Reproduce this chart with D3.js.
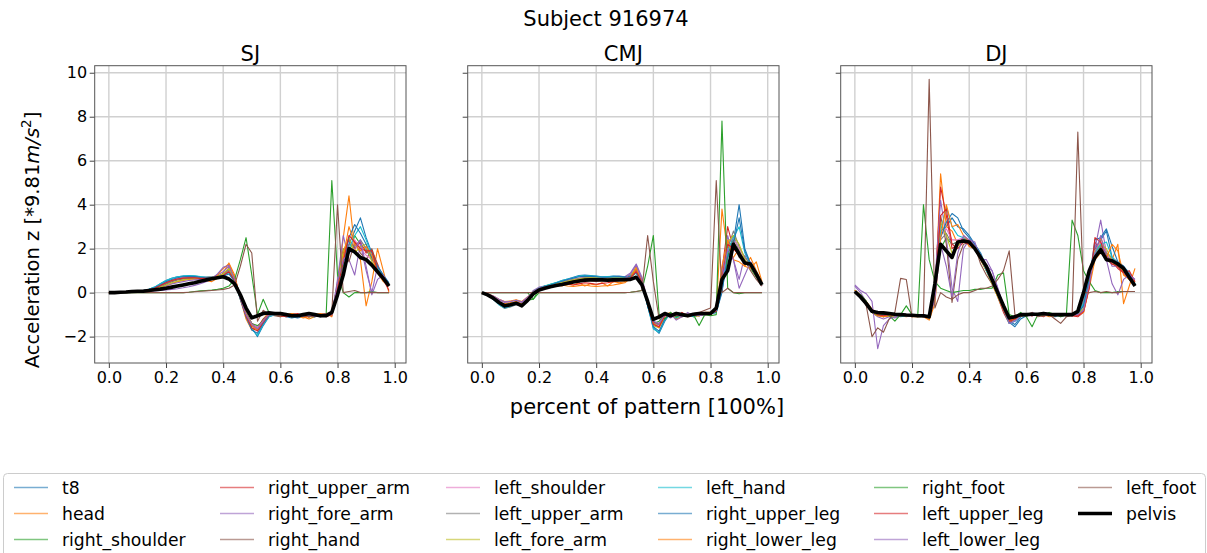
<!DOCTYPE html>
<html>
<head>
<meta charset="utf-8">
<script src="https://cdn.jsdelivr.net/npm/d3@7"></script>
<style>
  body { margin: 0; background: #fff; }
  svg { font-family: "DejaVu Sans", sans-serif; }
</style>
</head>
<body>
<svg id="chart" width="1207" height="553"></svg>
<script>
// sensor names, in plotting / legend order
const sensors = ["t8", "head", "right_shoulder", "right_upper_arm", "right_fore_arm",
  "right_hand", "left_shoulder", "left_upper_arm", "left_fore_arm", "left_hand",
  "right_upper_leg", "right_lower_leg", "right_foot", "left_upper_leg",
  "left_lower_leg", "left_foot", "pelvis"];

const sensorColors = ["#1f77b4", "#ff7f0e", "#2ca02c", "#d62728", "#9467bd",
  "#8c564b", "#e377c2", "#7f7f7f", "#bcbd22", "#17becf",
  "#1f77b4", "#ff7f0e", "#2ca02c", "#d62728", "#9467bd", "#8c564b", "#000000"];

const xTicks = [0, 0.2, 0.4, 0.6, 0.8, 1.0];
const yTicks = [-2, 0, 2, 4, 6, 8, 10];

// sample positions (fraction of the pattern)
const xPercent = [
  0, 0.02, 0.04, 0.06, 0.08, 0.1, 0.12, 0.14, 0.16, 0.18,
  0.2, 0.22, 0.24, 0.26, 0.28, 0.3, 0.32, 0.34, 0.36, 0.38,
  0.4, 0.42, 0.44, 0.46, 0.48, 0.5, 0.52, 0.54, 0.56, 0.58,
  0.6, 0.62, 0.64, 0.66, 0.68, 0.7, 0.72, 0.74, 0.76, 0.78,
  0.8, 0.82, 0.84, 0.86, 0.88, 0.9, 0.92, 0.94, 0.96, 0.98];

// SJ, one row per sensor (same order as sensors)
const sjData = [
  // t8
  [0, 0, 0.02, 0.03, 0.05, 0.07, 0.1, 0.15, 0.25, 0.4,
   0.55, 0.65, 0.72, 0.75, 0.77, 0.75, 0.72, 0.7, 0.7, 0.72,
   0.75, 0.95, 0.6, -0.2, -1.0, -1.6, -2.0, -1.5, -1.1, -1.0,
   -0.95, -1.0, -1.1, -1.15, -1.1, -1.0, -1.05, -1.1, -1.05, -0.9,
   0.2, 1.5, 2.2, 2.8, 3.4, 2.5, 1.8, 1.2, 0.8, 0.4],
  // head
  [0, 0, 0.01, 0.02, 0.04, 0.05, 0.06, 0.08, 0.12, 0.2,
   0.3, 0.4, 0.5, 0.55, 0.6, 0.62, 0.6, 0.55, 0.5, 0.65,
   0.9, 1.35, 0.8, -0.3, -1.2, -1.7, -1.6, -1.2, -0.9, -1.0,
   -1.1, -1.05, -0.95, -1.0, -1.1, -1.2, -1.1, -1.0, -0.95, -1.1,
   0.3, 2.5, 4.4, 2.0, 1.5, -0.6, 0.5, 2.0, 1.0, 0.0],
  // right_shoulder
  [0, 0, 0.02, 0.04, 0.05, 0.06, 0.08, 0.12, 0.2, 0.3,
   0.45, 0.55, 0.62, 0.65, 0.66, 0.65, 0.65, 0.68, 0.7, 0.75,
   0.85, 1.0, 0.5, -0.3, -1.0, -1.4, -1.5, -1.3, -1.0, -1.0,
   -0.9, -1.0, -1.1, -1.0, -1.05, -1.1, -1.0, -1.05, -1.0, -0.95,
   0.1, 1.2, 1.8, 2.6, 2.2, 1.9, 1.6, 1.0, 0.7, 0.35],
  // right_upper_arm
  [0, 0, 0.02, 0.03, 0.05, 0.07, 0.09, 0.12, 0.2, 0.3,
   0.45, 0.55, 0.62, 0.68, 0.7, 0.7, 0.68, 0.66, 0.65, 0.7,
   0.8, 1.1, 0.7, -0.2, -1.0, -1.5, -1.7, -1.4, -1.0, -0.9,
   -1.0, -1.1, -1.0, -0.95, -1.05, -1.1, -1.05, -1.0, -1.1, -1.0,
   0.3, 1.8, 2.4, 2.0, 2.3, 1.8, 1.9, 1.3, 0.6, 0.4],
  // right_fore_arm
  [0, 0, 0.02, 0.03, 0.04, 0.05, 0.07, 0.1, 0.15, 0.22,
   0.3, 0.4, 0.45, 0.5, 0.55, 0.58, 0.6, 0.62, 0.68, 0.8,
   0.95, 1.2, 0.6, -0.2, -0.9, -1.4, -1.6, -1.3, -1.0, -0.9,
   -0.95, -1.0, -1.05, -1.1, -1.0, -1.05, -1.1, -1.0, -0.95, -1.05,
   0.6, 2.6, 1.5, 0.8, 2.2, 1.0, 0.0, 1.2, 0.7, 0.3],
  // right_hand
  [0, 0, 0.02, 0.03, 0.05, 0.06, 0.08, 0.11, 0.16, 0.25,
   0.38, 0.5, 0.58, 0.62, 0.65, 0.68, 0.68, 0.7, 0.72, 0.75,
   0.85, 1.05, 0.65, -0.15, -0.9, -1.4, -1.6, -1.2, -1.0, -1.05,
   -1.1, -1.0, -0.95, -1.0, -1.1, -1.05, -1.0, -1.1, -1.05, -1.0,
   0.4, 2.0, 1.4, 2.3, 1.8, 1.5, 2.0, 1.2, 0.6, 0.3],
  // left_shoulder
  [0, 0, 0.02, 0.03, 0.05, 0.07, 0.09, 0.13, 0.2, 0.32,
   0.45, 0.55, 0.63, 0.68, 0.7, 0.7, 0.68, 0.68, 0.7, 0.74,
   0.82, 1.0, 0.55, -0.25, -1.0, -1.45, -1.6, -1.3, -1.0, -0.95,
   -1.0, -1.05, -1.0, -1.05, -1.1, -1.0, -1.05, -1.1, -1.0, -0.95,
   0.2, 1.6, 2.1, 2.4, 2.0, 1.7, 1.5, 1.1, 0.7, 0.35],
  // left_upper_arm
  [0, 0, 0.02, 0.03, 0.05, 0.06, 0.09, 0.13, 0.2, 0.3,
   0.42, 0.52, 0.6, 0.65, 0.68, 0.68, 0.67, 0.66, 0.68, 0.72,
   0.8, 1.05, 0.6, -0.2, -0.95, -1.5, -1.65, -1.35, -1.0, -0.95,
   -1.0, -1.0, -1.05, -1.1, -1.0, -1.0, -1.05, -1.05, -1.0, -1.0,
   0.25, 1.7, 2.2, 2.1, 2.4, 2.0, 1.5, 1.2, 0.7, 0.4],
  // left_fore_arm
  [0, 0, 0.02, 0.03, 0.04, 0.06, 0.08, 0.11, 0.16, 0.24,
   0.35, 0.45, 0.52, 0.58, 0.62, 0.64, 0.64, 0.65, 0.68, 0.75,
   0.85, 1.1, 0.6, -0.2, -0.95, -1.45, -1.7, -1.35, -1.05, -0.95,
   -0.95, -1.05, -1.1, -1.05, -1.0, -1.1, -1.05, -1.0, -1.05, -1.0,
   0.35, 1.9, 2.5, 1.8, 2.1, 2.2, 1.4, 1.0, 0.6, 0.35],
  // left_hand
  [0, 0, 0.02, 0.04, 0.06, 0.08, 0.1, 0.15, 0.25, 0.4,
   0.55, 0.65, 0.72, 0.76, 0.78, 0.76, 0.73, 0.7, 0.7, 0.72,
   0.78, 0.9, 0.55, -0.25, -1.05, -1.65, -1.95, -1.45, -1.1, -1.0,
   -1.0, -1.05, -1.1, -1.1, -1.05, -1.0, -1.05, -1.1, -1.05, -0.95,
   0.15, 1.4, 2.0, 2.6, 3.0, 2.4, 1.7, 1.1, 0.7, 0.4],
  // right_upper_leg
  [0, 0, 0.02, 0.03, 0.05, 0.07, 0.1, 0.14, 0.22, 0.35,
   0.5, 0.6, 0.68, 0.72, 0.74, 0.73, 0.7, 0.68, 0.68, 0.7,
   0.75, 0.85, 0.5, -0.3, -1.1, -1.7, -1.85, -1.4, -1.05, -0.95,
   -1.0, -1.1, -1.15, -1.1, -1.0, -1.05, -1.1, -1.05, -1.0, -0.9,
   0.3, 1.3, 2.5, 3.1, 2.7, 2.2, 1.6, 1.2, 0.8, 0.45],
  // right_lower_leg
  [0, 0, 0.01, 0.02, 0.03, 0.04, 0.05, 0.07, 0.1, 0.15,
   0.2, 0.25, 0.3, 0.35, 0.4, 0.45, 0.5, 0.55, 0.62, 0.8,
   1.1, 1.3, 0.7, -0.2, -1.0, -1.5, -1.7, -1.3, -1.0, -0.95,
   -1.05, -1.0, -0.95, -1.05, -1.15, -1.1, -1.0, -0.95, -1.0, -1.05,
   0.4, 1.6, 3.0, 2.2, 1.9, 2.1, 1.7, 0.9, 0.5, 0.3],
  // right_foot
  [0, 0, 0, 0, 0, 0, 0, 0, 0, 0,
   0, 0, 0, 0, 0.02, 0.05, 0.08, 0.1, 0.12, 0.15,
   0.2, 0.3, 0.6, 1.5, 2.5, 0.8, -1.0, -0.3, -0.9, -1.0,
   -1.0, -1.05, -1.1, -1.0, -1.05, -1.1, -1.1, -1.0, -1.05, 5.1,
   0.8, 0.0, -0.2, 0.0, 0.0, 0.0, 0.05, 0.0, 0.0, 0.0],
  // left_upper_leg
  [0, 0, 0.02, 0.03, 0.05, 0.07, 0.09, 0.13, 0.2, 0.32,
   0.45, 0.55, 0.62, 0.66, 0.68, 0.67, 0.65, 0.65, 0.66, 0.7,
   0.78, 0.95, 0.55, -0.25, -1.05, -1.6, -1.75, -1.35, -1.0, -0.95,
   -1.05, -1.1, -1.05, -1.0, -1.05, -1.1, -1.05, -1.0, -1.05, -1.0,
   0.2, 1.4, 2.6, 2.3, 2.0, 1.9, 1.9, 1.0, 0.6, 0.1],
  // left_lower_leg
  [0, 0, 0.01, 0.02, 0.03, 0.04, 0.05, 0.06, 0.08, 0.1,
   0.12, 0.15, 0.18, 0.22, 0.27, 0.33, 0.4, 0.5, 0.62, 0.85,
   1.15, 1.25, 0.6, -0.25, -1.0, -1.45, -1.65, -1.3, -1.0, -1.0,
   -1.0, -1.05, -1.0, -1.1, -1.05, -1.0, -1.1, -1.05, -1.0, -1.0,
   0.5, 1.5, 1.8, 2.0, 2.4, 1.2, -0.1, 0.6, 0.8, 0.3],
  // left_foot
  [0, 0, 0, 0, 0, 0, 0, 0, 0, 0,
   0, 0, 0, 0, 0.02, 0.04, 0.06, 0.08, 0.1, 0.12,
   0.15, 0.2, 0.35, 1.2, 2.2, 1.8, -1.3, -0.8, -1.0, -1.0,
   -1.05, -1.0, -1.1, -1.05, -1.0, -1.1, -1.05, -1.0, -0.95, -0.9,
   4.0, 0.0, 0.05, 0.1, 0.0, 0.0, 0.0, 0.0, 0.0, 0.0],
  // pelvis
  [0, 0, 0.02, 0.03, 0.05, 0.06, 0.06, 0.1, 0.13, 0.16,
   0.2, 0.25, 0.3, 0.35, 0.4, 0.45, 0.52, 0.58, 0.63, 0.68,
   0.72, 0.62, 0.4, -0.1, -0.7, -1.15, -1.05, -0.95, -0.92, -0.95,
   -0.95, -1.0, -1.05, -1.05, -1.0, -0.95, -1.0, -1.05, -1.05, -0.9,
   -0.1, 0.8, 2.0, 1.85, 1.6, 1.5, 1.25, 0.95, 0.65, 0.3]
];

// CMJ
const cmjData = [
  // t8
  [0, -0.1, -0.3, -0.5, -0.65, -0.6, -0.5, -0.6, -0.3, 0.05,
   0.2, 0.3, 0.35, 0.45, 0.55, 0.62, 0.7, 0.78, 0.8, 0.78,
   0.75, 0.72, 0.72, 0.75, 0.75, 0.72, 0.78, 1.0, 0.5, -0.6,
   -1.6, -1.85, -1.3, -0.9, -1.2, -1.0, -0.95, -1.1, -1.0, -0.95,
   -0.95, -0.9, 0.0, 1.8, 2.3, 4.0, 2.0, 1.3, 0.9, 0.45],
  // head
  [0, -0.1, -0.25, -0.45, -0.5, -0.45, -0.4, -0.5, -0.3, 0.0,
   0.15, 0.25, 0.3, 0.35, 0.3, 0.4, 0.35, 0.45, 0.3, 0.4,
   0.35, 0.45, 0.3, 0.5, 0.45, 0.5, 0.7, 1.2, 0.6, -0.5,
   -1.3, -1.5, -1.0, -0.9, -1.2, -1.1, -1.0, -1.1, -1.05, -0.9,
   -0.9, -0.8, 3.8, 1.8, 1.6, 2.0, 1.2, 1.6, 1.0, 0.45],
  // right_shoulder
  [0, -0.1, -0.3, -0.45, -0.55, -0.5, -0.45, -0.55, -0.35, -0.3,
   0.15, 0.3, 0.38, 0.45, 0.5, 0.55, 0.6, 0.65, 0.68, 0.7,
   0.7, 0.68, 0.67, 0.68, 0.66, 0.65, 0.7, 0.9, 0.45, -0.5,
   -1.4, -1.3, -1.0, -1.05, -0.9, -1.1, -1.0, -0.95, -1.05, -1.0,
   -0.95, -0.85, 0.3, 1.6, 2.6, 1.9, 1.4, 1.1, 0.7, 0.35],
  // right_upper_arm
  [0, -0.1, -0.28, -0.5, -0.6, -0.55, -0.5, -0.58, -0.32, 0.0,
   0.12, 0.22, 0.28, 0.32, 0.35, 0.38, 0.35, 0.4, 0.45, 0.42,
   0.38, 0.42, 0.45, 0.5, 0.55, 0.6, 0.75, 1.0, 0.5, -0.55,
   -1.4, -1.55, -1.1, -1.0, -1.15, -0.9, -1.05, -1.0, -0.95, -1.0,
   -1.0, -0.85, 1.0, 3.0, 2.0, 1.7, 1.4, 1.2, 0.8, 0.4],
  // right_fore_arm
  [0, -0.05, -0.2, -0.35, -0.45, -0.4, -0.35, -0.45, -0.25, 0.1,
   0.25, 0.3, 0.35, 0.4, 0.5, 0.55, 0.6, 0.62, 0.65, 0.68,
   0.7, 0.72, 0.7, 0.68, 0.7, 0.72, 0.9, 1.3, 0.7, -0.4,
   -1.3, -1.45, -1.2, -0.95, -1.25, -1.1, -0.9, -1.05, -1.0, -0.95,
   -0.9, -0.8, 0.8, 2.6, 1.5, 0.6, 1.7, 1.2, 0.9, 0.3],
  // right_hand
  [0, -0.05, -0.2, -0.4, -0.55, -0.5, -0.45, -0.55, -0.3, 0.0,
   0.15, 0.25, 0.32, 0.38, 0.45, 0.5, 0.55, 0.58, 0.62, 0.65,
   0.65, 0.62, 0.6, 0.62, 0.63, 0.64, 0.72, 1.05, 0.55, -0.45,
   -1.35, -1.4, -1.05, -1.0, -1.1, -1.0, -1.05, -0.95, -1.0, -1.0,
   -0.95, -0.85, 0.6, 2.0, 2.4, 1.6, 1.5, 1.0, 0.6, 0.3],
  // left_shoulder
  [0, -0.1, -0.3, -0.5, -0.62, -0.58, -0.5, -0.6, -0.33, 0.02,
   0.15, 0.28, 0.35, 0.42, 0.5, 0.58, 0.62, 0.66, 0.7, 0.7,
   0.72, 0.7, 0.7, 0.72, 0.7, 0.7, 0.75, 0.95, 0.5, -0.5,
   -1.45, -1.5, -1.1, -1.0, -1.05, -1.0, -1.1, -1.0, -0.95, -1.0,
   -0.95, -0.88, 0.5, 2.2, 2.5, 2.0, 1.5, 1.2, 0.8, 0.4],
  // left_upper_arm
  [0, -0.1, -0.3, -0.55, -0.72, -0.65, -0.55, -0.62, -0.35, 0.0,
   0.15, 0.25, 0.33, 0.4, 0.48, 0.55, 0.6, 0.64, 0.68, 0.68,
   0.68, 0.68, 0.67, 0.68, 0.68, 0.68, 0.72, 0.9, 0.5, -0.5,
   -1.4, -1.45, -1.05, -0.95, -1.1, -1.0, -1.0, -1.05, -1.0, -0.95,
   -0.95, -0.85, 0.4, 2.0, 2.8, 2.1, 1.6, 1.3, 0.8, 0.4],
  // left_fore_arm
  [0, -0.08, -0.25, -0.45, -0.58, -0.52, -0.48, -0.55, -0.3, 0.05,
   0.2, 0.28, 0.34, 0.4, 0.46, 0.52, 0.58, 0.62, 0.66, 0.68,
   0.68, 0.66, 0.65, 0.67, 0.68, 0.7, 0.8, 1.1, 0.55, -0.45,
   -1.5, -1.6, -1.15, -1.0, -1.15, -1.05, -0.95, -1.05, -1.05, -0.95,
   -0.9, -0.85, 0.5, 2.3, 2.6, 2.2, 1.5, 1.2, 0.8, 0.4],
  // left_hand
  [0, -0.1, -0.3, -0.55, -0.7, -0.62, -0.52, -0.6, -0.3, 0.05,
   0.2, 0.3, 0.38, 0.46, 0.55, 0.62, 0.68, 0.75, 0.78, 0.76,
   0.74, 0.72, 0.73, 0.74, 0.72, 0.7, 0.74, 0.9, 0.45, -0.6,
   -1.65, -1.8, -1.25, -0.95, -1.15, -1.0, -1.0, -1.1, -1.0, -0.95,
   -0.95, -0.9, 0.2, 1.9, 2.5, 3.0, 1.8, 1.3, 0.9, 0.45],
  // right_upper_leg
  [0, -0.1, -0.3, -0.5, -0.68, -0.6, -0.52, -0.62, -0.32, 0.05,
   0.18, 0.28, 0.35, 0.44, 0.52, 0.6, 0.66, 0.72, 0.75, 0.74,
   0.72, 0.7, 0.7, 0.72, 0.73, 0.72, 0.74, 0.92, 0.45, -0.6,
   -1.55, -1.75, -1.2, -0.95, -1.1, -1.0, -1.05, -1.05, -1.0, -0.95,
   -0.95, -0.9, 0.1, 1.6, 2.2, 3.4, 1.9, 1.3, 0.85, 0.45],
  // right_lower_leg
  [0, -0.05, -0.15, -0.3, -0.4, -0.38, -0.32, -0.4, -0.2, 0.05,
   0.15, 0.2, 0.25, 0.3, 0.35, 0.3, 0.28, 0.32, 0.35, 0.3,
   0.28, 0.3, 0.32, 0.35, 0.4, 0.45, 0.65, 1.1, 0.6, -0.5,
   -1.4, -1.6, -1.0, -1.1, -1.05, -0.95, -1.1, -1.0, -1.05, -0.95,
   -0.9, -0.8, 1.2, 2.4, 1.5, 1.4, 1.2, 1.1, 1.4, 0.5],
  // right_foot
  [0, 0, 0, 0, 0, 0, 0, 0, 0, -0.3,
   0, 0, 0, 0, 0, 0, 0, 0, 0, 0,
   0, 0, 0, 0, 0, 0, 0.02, 0.05, 0.1, 1.2,
   2.6, -1.0, -1.2, -0.9, -1.1, -1.0, -1.0, -1.0, -1.5, -1.0,
   -1.05, -1.0, 7.8, 0.2, 0.0, -0.05, 0.0, 0.0, 0.0, 0.0],
  // left_upper_leg
  [0, -0.1, -0.28, -0.48, -0.62, -0.56, -0.5, -0.58, -0.32, 0.02,
   0.15, 0.25, 0.3, 0.35, 0.4, 0.45, 0.48, 0.5, 0.55, 0.55,
   0.52, 0.55, 0.58, 0.6, 0.62, 0.62, 0.68, 0.95, 0.5, -0.5,
   -1.45, -1.55, -1.05, -1.0, -1.05, -0.95, -1.05, -1.0, -1.0, -0.95,
   -0.95, -0.85, 0.6, 2.2, 2.0, 1.8, 1.3, 1.3, 0.8, 0.4],
  // left_lower_leg
  [0, -0.05, -0.15, -0.3, -0.42, -0.4, -0.35, -0.42, -0.2, 0.05,
   0.2, 0.25, 0.3, 0.35, 0.4, 0.42, 0.45, 0.5, 0.55, 0.6,
   0.62, 0.62, 0.6, 0.6, 0.62, 0.65, 0.85, 1.25, 0.6, -0.45,
   -1.3, -1.4, -1.0, -1.15, -1.0, -1.1, -0.95, -1.0, -1.05, -1.0,
   -0.95, -0.8, 0.5, 2.0, 1.5, 0.2, 0.8, 1.4, 0.9, 0.4],
  // left_foot
  [0, 0, 0, 0, 0, 0, 0, 0, 0, 0,
   0, 0, 0, 0, 0, 0, 0, 0, 0, 0,
   0, 0, 0, 0, 0, 0, 0.02, 0.05, 0.1, 2.6,
   0.5, -1.2, -1.0, -1.1, -0.9, -1.0, -1.05, -0.95, -0.9, -0.8,
   -0.7, 5.1, 0.0, 0.2, 0.0, 0.0, 0.0, 0.0, 0.0, 0.0],
  // pelvis
  [0, -0.1, -0.25, -0.45, -0.6, -0.55, -0.48, -0.6, -0.35, -0.05,
   0.12, 0.2, 0.27, 0.32, 0.37, 0.43, 0.48, 0.53, 0.57, 0.58,
   0.58, 0.58, 0.57, 0.58, 0.58, 0.59, 0.6, 0.7, 0.35, -0.4,
   -1.22, -1.1, -0.95, -1.05, -0.95, -1.0, -1.05, -0.98, -0.95, -0.95,
   -0.95, -0.7, 0.6, 1.0, 2.2, 1.75, 1.35, 1.3, 0.85, 0.35]
];

// DJ
const djData = [
  // t8
  [0.05, -0.2, -0.5, -0.8, -0.95, -1.0, -0.95, -1.05, -1.0, -1.05,
   -1.05, -1.05, -1.1, -1.1, 0.3, 2.8, 3.0, 3.4, 3.0, 2.9,
   2.6, 2.2, 1.8, 1.2, 0.6, 0.0, -0.7, -1.3, -1.45, -1.1,
   -1.0, -0.95, -1.05, -0.9, -1.0, -1.1, -1.0, -1.05, -1.0, -0.95,
   -0.5, 0.8, 2.0, 2.4, 2.8, 1.6, 1.3, 1.2, 0.8, 0.35],
  // head
  [0.1, -0.1, -0.4, -0.75, -0.95, -1.0, -1.05, -1.0, -1.05, -1.1,
   -1.05, -1.1, -1.05, -1.2, -0.3, 5.4, 3.0, 2.8, 2.2, 2.5,
   2.1, 2.0, 1.7, 1.1, 0.5, -0.1, -0.8, -1.35, -1.2, -1.05,
   -1.0, -1.05, -0.95, -1.0, -1.1, -1.05, -1.0, -0.95, -1.05, -1.0,
   -0.8, 0.5, 1.6, 2.5, 1.8, 1.5, 2.2, -0.5, 0.3, 1.1],
  // right_shoulder
  [0.1, -0.15, -0.45, -0.8, -0.95, -1.0, -1.0, -1.05, -1.0, -1.05,
   -1.05, -1.05, -1.05, -1.1, 0.2, 2.0, 2.5, 2.2, 2.3, 2.4,
   2.3, 2.1, 1.6, 1.1, 0.5, -0.1, -0.7, -1.2, -1.1, -1.05,
   -1.0, -1.0, -0.95, -1.0, -1.05, -1.0, -1.0, -1.0, -0.95, -0.9,
   -0.2, 0.9, 1.8, 2.2, 1.7, 1.4, 1.3, 1.1, 0.7, 0.3],
  // right_upper_arm
  [0.05, -0.2, -0.5, -0.85, -1.0, -1.1, -1.0, -1.05, -1.05, -1.0,
   -1.0, -1.05, -1.1, -1.15, 0.0, 4.8, 3.5, 2.0, 2.2, 2.5,
   2.2, 2.1, 1.5, 1.0, 0.4, -0.2, -0.9, -1.4, -1.2, -1.0,
   -1.0, -1.05, -1.0, -1.1, -0.95, -1.0, -1.05, -1.0, -1.05, -1.1,
   -0.9, 0.3, 2.3, 1.9, 1.7, 1.4, 1.1, 0.9, 0.6, 0.5],
  // right_fore_arm
  [0.3, 0.0, -0.4, -0.9, -1.1, -1.2, -1.1, -1.15, -1.05, -1.0,
   -1.05, -1.1, -1.0, -1.1, 0.5, 4.2, 2.5, 0.2, -0.4, 2.0,
   2.4, 2.2, 1.5, 1.2, 1.0, 0.2, -0.6, -1.3, -1.25, -1.0,
   -1.1, -0.9, -1.0, -1.05, -1.0, -0.95, -1.1, -1.0, -1.0, -1.0,
   -0.8, 0.5, 2.0, 3.3, 1.8, 1.2, 1.2, 0.9, 0.8, 0.6],
  // right_hand
  [0.1, -0.1, -0.4, -0.8, -1.0, -1.1, -1.05, -1.1, -1.0, -1.05,
   -1.05, -1.05, -1.1, -1.1, -0.2, 3.5, 2.2, -0.45, 1.5, 2.2,
   2.3, 2.1, 1.3, 0.8, 0.4, 0.0, -0.8, -1.3, -1.2, -1.05,
   -1.0, -1.0, -1.05, -0.95, -1.0, -1.05, -1.0, -1.05, -1.0, -0.95,
   -0.6, 0.5, 2.0, 2.1, 1.5, 1.3, 1.2, 1.0, 0.6, 0.4],
  // left_shoulder
  [0.1, -0.15, -0.45, -0.85, -0.95, -1.0, -1.0, -1.05, -1.0, -1.05,
   -1.05, -1.05, -1.05, -1.1, 0.1, 2.6, 2.9, 2.4, 2.4, 2.5,
   2.4, 2.1, 1.6, 1.1, 0.5, -0.1, -0.8, -1.25, -1.15, -1.0,
   -1.0, -1.0, -1.0, -1.05, -1.0, -1.0, -1.05, -1.0, -1.0, -0.9,
   -0.3, 0.8, 1.9, 2.3, 1.8, 1.5, 1.3, 1.1, 0.7, 0.35],
  // left_upper_arm
  [0.05, -0.2, -0.5, -0.85, -0.98, -1.0, -1.0, -1.05, -1.05, -1.05,
   -1.05, -1.05, -1.1, -1.1, 0.2, 2.4, 2.7, 2.2, 2.3, 2.4,
   2.3, 2.0, 1.6, 1.1, 0.5, -0.1, -0.7, -1.2, -1.15, -1.0,
   -0.95, -1.0, -1.0, -1.0, -1.0, -1.05, -1.0, -1.0, -1.0, -0.9,
   -0.4, 0.7, 1.7, 2.1, 1.8, 1.6, 1.4, 1.2, 0.7, 0.3],
  // left_fore_arm
  [0.1, -0.1, -0.45, -0.9, -1.05, -1.1, -1.05, -1.1, -1.05, -1.05,
   -1.1, -1.05, -1.1, -1.15, 0.0, 3.2, 2.6, 1.8, 2.1, 2.4,
   2.2, 2.0, 1.5, 1.0, 0.4, -0.2, -0.8, -1.3, -1.2, -1.05,
   -1.05, -1.0, -0.95, -1.05, -1.0, -1.0, -1.0, -1.05, -1.0, -1.0,
   -0.7, 0.4, 1.9, 2.2, 2.0, 1.4, 1.2, 1.0, 0.7, 0.45],
  // left_hand
  [0.05, -0.2, -0.5, -0.85, -1.0, -1.05, -1.0, -1.05, -1.1, -1.05,
   -1.05, -1.1, -1.1, -1.15, 0.1, 2.8, 3.9, 3.0, 2.6, 2.5,
   2.3, 2.0, 1.6, 1.0, 0.5, -0.1, -0.8, -1.4, -1.3, -1.1,
   -1.0, -1.0, -1.05, -1.0, -1.0, -1.05, -1.0, -1.0, -1.05, -0.95,
   -0.5, 0.6, 1.8, 2.2, 2.3, 1.6, 1.3, 1.1, 0.8, 0.4],
  // right_upper_leg
  [0.05, -0.2, -0.5, -0.85, -1.0, -1.0, -1.0, -1.05, -1.0, -1.05,
   -1.05, -1.05, -1.05, -1.1, 0.2, 2.5, 3.2, 3.6, 3.4, 2.8,
   2.5, 2.2, 1.7, 1.1, 0.5, -0.1, -0.7, -1.35, -1.55, -1.2,
   -1.05, -1.0, -1.0, -0.95, -1.0, -1.05, -1.0, -1.0, -1.0, -0.95,
   -0.6, 0.6, 2.4, 2.5, 2.9, 2.1, 1.4, 1.2, 0.9, 0.4],
  // right_lower_leg
  [0.1, -0.15, -0.5, -0.9, -1.05, -1.1, -1.05, -1.0, -1.05, -1.0,
   -1.1, -1.1, -1.1, -1.25, -0.5, 2.5, 4.0, 3.0, 3.1, 2.6,
   2.3, 2.0, 1.6, 1.1, 0.6, 0.0, -0.7, -1.25, -1.2, -1.0,
   -1.05, -1.0, -1.0, -0.95, -1.05, -1.0, -1.05, -1.0, -1.0, -1.0,
   -0.9, 0.2, 1.5, 1.8, 1.6, 2.2, 1.9, 0.8, 0.6, 0.5],
  // right_foot
  [0.0, -0.1, -0.4, -0.9, -1.0, -0.95, -1.05, -1.3, -1.0, -0.6,
   -1.0, -1.05, 4.0, 1.5, 0.5, 0.2, 0.1, 0.0, 0.05, 0.1,
   0.1, 0.15, 0.15, 0.2, 0.2, 0.8, 0.9, -1.0, -1.1, -0.9,
   -1.1, -1.55, -1.0, -1.05, -0.9, -1.0, -1.1, -1.0, 3.3, 2.6,
   1.0, 0.5, 0.1, 0.0, 0.0, 0.0, 0.05, 0.05, 0.05, 0.05],
  // left_upper_leg
  [0.05, -0.2, -0.5, -0.85, -1.0, -1.05, -1.0, -1.05, -1.05, -1.0,
   -1.05, -1.05, -1.1, -1.1, 0.1, 3.5, 3.8, 2.2, 2.0, 2.3,
   2.2, 2.0, 1.6, 1.1, 0.5, -0.1, -0.8, -1.3, -1.2, -1.0,
   -1.0, -1.05, -1.0, -1.0, -0.95, -1.0, -1.05, -1.0, -1.05, -1.05,
   -0.85, 0.2, 2.5, 2.3, 1.6, 1.3, 1.2, 0.9, 1.0, 0.5],
  // left_lower_leg
  [0.35, 0.1, -0.05, -0.4, -2.55, -1.5, -1.2, -1.1, -1.0, -1.05,
   -1.1, -1.05, -1.1, -1.15, -0.3, 2.2, 1.2, -0.2, 1.8, 2.6,
   2.4, 2.3, 1.5, 1.5, 1.0, 0.2, -0.6, -1.4, -1.3, -1.05,
   -1.0, -1.05, -1.0, -0.95, -1.05, -1.0, -0.95, -1.05, -1.0, -1.0,
   -0.8, 0.4, 1.8, 2.6, 1.5, 0.4, -0.1, 0.6, 0.8, 0.6],
  // left_foot
  [0.0, -0.2, -0.6, -2.0, -1.6, -1.8, -1.2, -0.9, 0.65, 0.6,
   -1.1, -1.05, -1.05, 9.7, -0.7, 0.0, -0.2, -0.3, -0.1, 0.0,
   0.0, 0.1, 0.2, 0.2, 0.3, 0.6, 1.0, 1.9, -1.0, -1.1,
   -1.0, -0.9, -1.1, -1.05, -1.0, -1.2, -1.4, -1.1, -1.05, 7.3,
   0.0, 0.0, 0.05, 0.0, 0.05, 0.0, 0.0, 0.05, 0.05, 0.05],
  // pelvis
  [0.05, -0.2, -0.5, -0.85, -0.9, -0.92, -0.95, -0.98, -1.0, -1.02,
   -1.03, -1.05, -1.05, -1.1, 0.4, 2.2, 1.9, 1.6, 2.3, 2.35,
   2.3, 2.0, 1.6, 1.2, 0.6, 0.0, -0.6, -1.15, -1.1, -1.0,
   -1.0, -0.98, -0.98, -0.95, -0.98, -1.0, -1.0, -1.0, -1.0, -0.85,
   0.0, 1.0, 1.6, 1.95, 1.5, 1.45, 1.3, 1.1, 0.7, 0.3]
];

const panelTitles = ["SJ", "CMJ", "DJ"];
const panelData = [sjData, cmjData, djData];

// layout
const svg = d3.select("#chart");
const panelLeft = [94.7, 467.7, 840.7];
const panelW = 311.3;
const panelTop = 65.7;
const panelBottom = 363;

const y = d3.scaleLinear().domain([-3.2, 10.32]).range([panelBottom, panelTop]);

svg.append("text")
  .attr("x", 606).attr("y", 26)
  .attr("text-anchor", "middle")
  .attr("font-size", 21)
  .text("Subject 916974");

panelData.forEach((data, pi) => {
  const x = d3.scaleLinear()
    .domain([-0.0495, 1.0395])
    .range([panelLeft[pi], panelLeft[pi] + panelW]);

  const g = svg.append("g");

  g.append("clipPath").attr("id", "clip" + pi)
    .append("rect")
    .attr("x", panelLeft[pi]).attr("y", panelTop)
    .attr("width", panelW).attr("height", panelBottom - panelTop);

  // grid
  g.selectAll(".vgrid").data(xTicks).join("line")
    .attr("x1", d => x(d)).attr("x2", d => x(d))
    .attr("y1", panelTop).attr("y2", panelBottom)
    .attr("stroke", "#d0d0d0").attr("stroke-width", 1.4);
  g.selectAll(".hgrid").data(yTicks).join("line")
    .attr("x1", panelLeft[pi]).attr("x2", panelLeft[pi] + panelW)
    .attr("y1", d => y(d)).attr("y2", d => y(d))
    .attr("stroke", "#d0d0d0").attr("stroke-width", 1.4);

  // lines
  const line = d3.line()
    .x((d, i) => x(xPercent[i]))
    .y(d => y(d));

  g.append("g").attr("clip-path", `url(#clip${pi})`)
    .selectAll("path")
    .data(data)
    .join("path")
    .attr("d", line)
    .attr("fill", "none")
    .attr("stroke", (d, i) => sensorColors[i])
    .attr("stroke-width", (d, i) => sensors[i] === "pelvis" ? 3.6 : 1.1)
    .attr("stroke-linejoin", "round");

  // axes
  const xAxis = d3.axisBottom(x)
    .tickValues(xTicks)
    .tickFormat(d3.format(".1f"))
    .tickSize(5)
    .tickPadding(4);
  const xg = g.append("g")
    .attr("transform", `translate(0,${panelBottom})`)
    .call(xAxis);
  xg.select(".domain").remove();

  const yAxis = d3.axisLeft(y)
    .tickValues(yTicks)
    .tickFormat(pi === 0 ? d3.format("d") : () => "")
    .tickSize(5)
    .tickPadding(2.5);
  const yg = g.append("g")
    .attr("transform", `translate(${panelLeft[pi]},0)`)
    .call(yAxis);
  yg.select(".domain").remove();

  [xg, yg].forEach(a => {
    a.attr("font-size", 16).attr("font-family", "DejaVu Sans").attr("color", "#444");
    a.selectAll("text").attr("fill", "#000");
  });

  // frame
  g.append("rect")
    .attr("x", panelLeft[pi]).attr("y", panelTop)
    .attr("width", panelW).attr("height", panelBottom - panelTop)
    .attr("fill", "none").attr("stroke", "#555").attr("stroke-width", 1);

  g.append("text")
    .attr("x", panelLeft[pi] + panelW / 2).attr("y", 61)
    .attr("text-anchor", "middle")
    .attr("font-size", 21)
    .text(panelTitles[pi]);
});

// axis labels
const yLabel = svg.append("text")
  .attr("transform", "translate(38.5,240) rotate(-90)")
  .attr("text-anchor", "middle")
  .attr("font-size", 19.5);
yLabel.append("tspan").text("Acceleration z [*9.81");
yLabel.append("tspan").attr("font-style", "italic").text("m");
yLabel.append("tspan").attr("font-style", "italic").text("/");
yLabel.append("tspan").attr("font-style", "italic").text("s");
yLabel.append("tspan").attr("font-size", 13.5).attr("dy", -7.5).text("2");
yLabel.append("tspan").attr("dy", 7.5).text("]");

svg.append("text")
  .attr("x", 647).attr("y", 414)
  .attr("text-anchor", "middle")
  .attr("font-size", 21)
  .text("percent of pattern [100%]");

// legend
const legendTextX = [62, 268, 494, 706, 922, 1126];
const legendRowY = [487.5, 513.5, 539.5];

svg.append("rect")
  .attr("x", 3.5).attr("y", 473.5)
  .attr("width", 1202).attr("height", 100)
  .attr("rx", 4)
  .attr("fill", "#fff").attr("stroke", "#cccccc").attr("stroke-width", 1);

const items = svg.append("g").selectAll("g")
  .data(sensors)
  .join("g")
  .attr("transform", (d, i) =>
    `translate(${legendTextX[Math.floor(i / 3)]},${legendRowY[i % 3]})`);

items.append("line")
  .attr("x1", -48).attr("x2", -14)
  .attr("stroke", d => sensorColors[sensors.indexOf(d)])
  .attr("stroke-width", d => d === "pelvis" ? 3.6 : 1.3)
  .attr("stroke-opacity", d => d === "pelvis" ? 1 : 0.6);

items.append("text")
  .attr("y", 6)
  .attr("font-size", 17.2)
  .text(d => d);
</script>
</body>
</html>
